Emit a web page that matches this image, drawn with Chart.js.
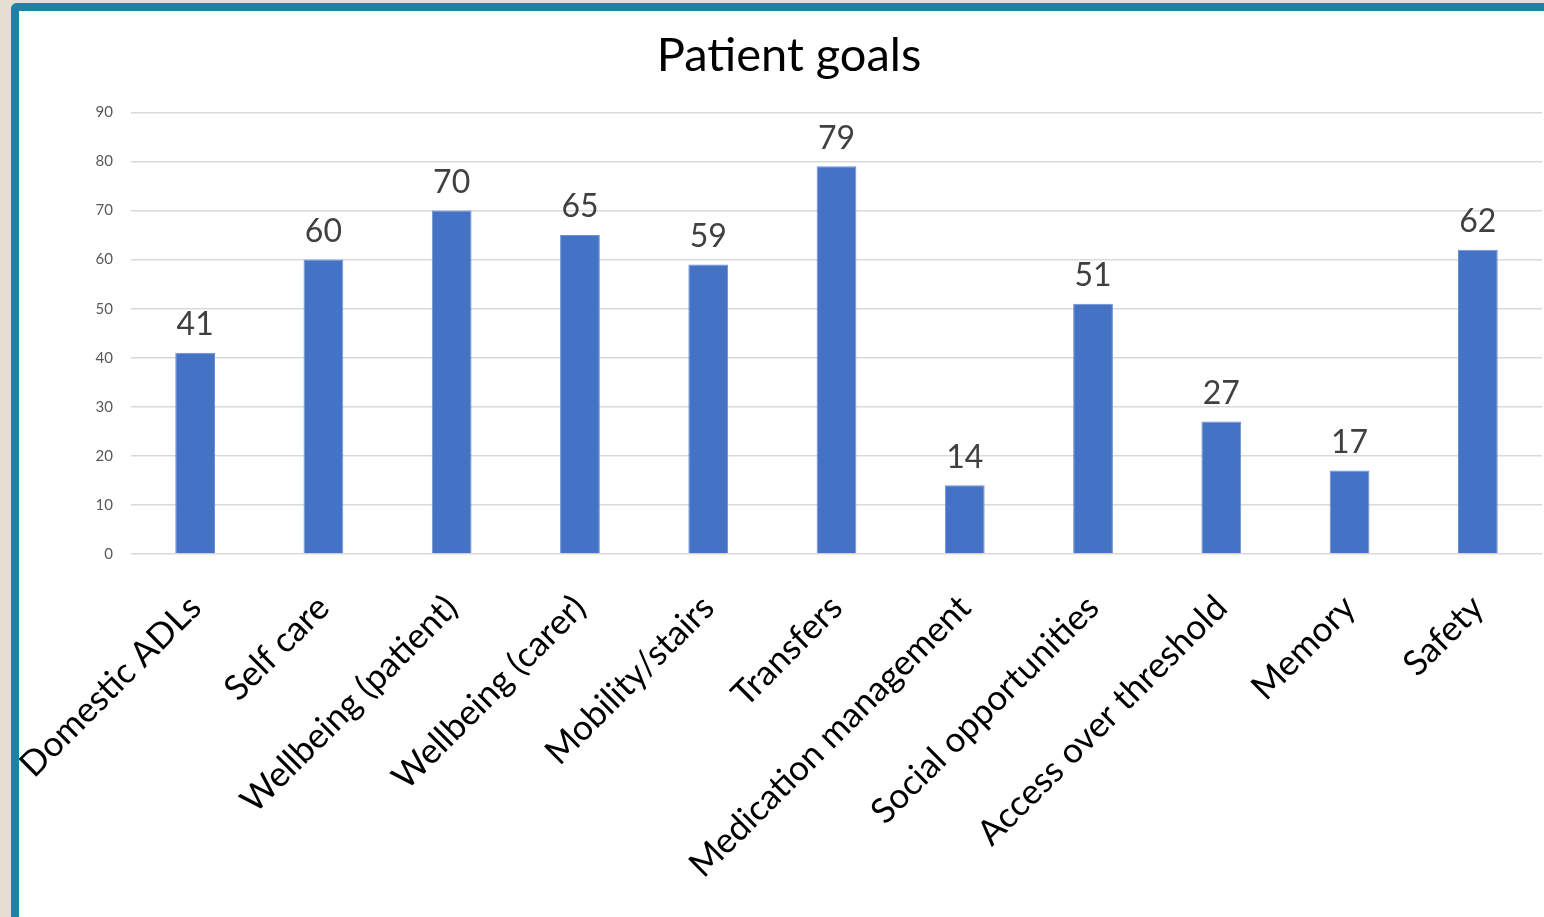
<!DOCTYPE html>
<html>
<head>
<meta charset="utf-8">
<script src="https://cdn.jsdelivr.net/npm/chart.js@4"></script>
<style>
  html, body { margin: 0; padding: 0; width: 1544px; height: 917px; overflow: hidden; background: #e4ded3; }
  #cadre {
    position: absolute; left: 11px; top: 3px; width: 1560px; height: 940px;
    background: #ffffff; border-left: 8px solid #1786a6; border-top: 8px solid #1786a6;
    border-top-left-radius: 6px;
  }
  #zone { position: absolute; left: 0; top: 0; width: 1540px; height: 906px; }
</style>
</head>
<body>
<div id="cadre"><div id="zone"><canvas id="mon-graphique"></canvas></div></div>
<script>
const categories = [
  "Domestic ADLs",
  "Self care",
  "Wellbeing (patient)",
  "Wellbeing (carer)",
  "Mobility/stairs",
  "Transfers",
  "Medication management",
  "Social opportunities",
  "Access over threshold",
  "Memory",
  "Safety"
];
const valeurs = [41, 60, 70, 65, 59, 79, 14, 51, 27, 17, 62];
const graduations = [0, 10, 20, 30, 40, 50, 60, 70, 80, 90];

const police = "Lato, 'Open Sans', sans-serif";

// étiquettes au-dessus des barres
const etiquettes = {
  id: "etiquettes",
  afterDatasetsDraw(chart) {
    const ctx = chart.ctx;
    const meta = chart.getDatasetMeta(0);
    ctx.save();
    ctx.font = "32px " + police;
    ctx.fillStyle = "#404040";
    ctx.textAlign = "center";
    ctx.textBaseline = "bottom";
    meta.data.forEach((bar, i) => {
      ctx.fillText(String(valeurs[i]), bar.x, bar.y - 12);
    });
    ctx.restore();
  }
};

let configurations = {
  type: "bar",
  data: {
    labels: categories,
    datasets: [{
      data: valeurs,
      backgroundColor: "#4472c4",
      borderColor: "#6b90d4",
      borderWidth: 1,
      categoryPercentage: 0.62,
      barPercentage: 0.5
    }]
  },
  options: {
    responsive: true,
    maintainAspectRatio: false,
    animation: false,
    layout: { padding: { left: 17, right: 17, top: 0, bottom: 0 } },
    plugins: {
      legend: { display: false },
      tooltip: { enabled: false },
      title: {
        display: true,
        text: "Patient goals",
        color: "#000000",
        font: { family: police, size: 47, weight: "normal" },
        padding: { top: 17, bottom: 28 }
      }
    },
    scales: {
      x: {
        type: "category",
        grid: { display: false },
        border: { display: false },
        ticks: {
          color: "#000000",
          font: { family: police, size: 35 },
          maxRotation: 45,
          minRotation: 45,
          autoSkip: false,
          padding: 25
        },
        afterFit: (s) => {
          s.height = 363;
          s.paddingLeft = 0;
          s.paddingRight = 0;
        }
      },
      y: {
        min: 0,
        max: 90,
        grid: { color: "#d9d9d9", lineWidth: 1.5, drawTicks: false },
        border: { display: false },
        afterBuildTicks: (s) => { s.ticks = graduations.map(v => ({ value: v })); },
        ticks: {
          color: "#595959",
          font: { family: police, size: 15 },
          padding: 18
        },
        afterFit: (s) => { s.width = 95; }
      }
    }
  },
  plugins: [etiquettes]
};

const contexte = document.querySelector('#mon-graphique').getContext("2d");
new Chart(contexte, configurations);
</script>
</body>
</html>
